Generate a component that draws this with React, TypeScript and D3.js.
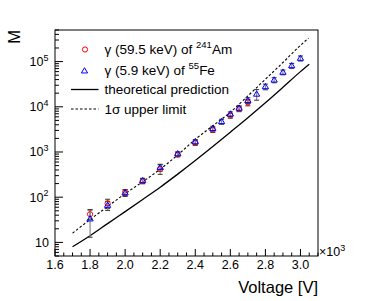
import React from "react";
import * as d3 from "d3";

// ---- data ----
const amVoltage = [1.8, 1.9, 2.0, 2.1, 2.2, 2.3, 2.4, 2.5, 2.6, 2.65, 2.7];
const amGain = [42, 73, 128, 228, 421, 880, 1600, 3100, 6400, 9000, 12500];
const amErr = [10, 17, 20, 30, 100, 100, 200, 400, 800, 1200, 2000];

const feVoltage = [1.8, 1.9, 2.0, 2.1, 2.2, 2.3, 2.4, 2.5, 2.55, 2.6, 2.65, 2.7, 2.75, 2.8, 2.85, 2.9, 2.95, 3.0];
const feGain = [33, 66, 124, 232, 455, 910, 1680, 3300, 4700, 6900, 9300, 13800, 19000, 27800, 39000, 58000, 81000, 118000];
const feErr = [20, 15, 20, 30, 80, 100, 200, 400, 600, 800, 1200, 2000, 5000, 4000, 5000, 7000, 10000, 15000];

const theoryVoltage = [1.7, 1.8, 1.9, 2.0, 2.1, 2.2, 2.3, 2.4, 2.5, 2.6, 2.7, 2.8, 2.9, 3.0, 3.05];
const theoryGain = [8, 14, 26, 48, 89, 166, 324, 646, 1320, 2750, 5750, 12300, 27000, 60000, 87000];

const upperVoltage = [1.7, 1.8, 1.9, 2.0, 2.1, 2.2, 2.3, 2.4, 2.5, 2.6, 2.7, 2.8, 2.9, 3.0, 3.046];
const upperGain = [16, 32, 62, 120, 219, 417, 860, 1900, 3800, 7590, 17400, 40700, 95500, 229000, 331000];

const xTicks = [1.6, 1.8, 2.0, 2.2, 2.4, 2.6, 2.8, 3.0];
const yDecades = [1, 2, 3, 4, 5];

const legendLabels = ["γ (59.5 keV) of ", "γ (5.9 keV) of ", "theoretical prediction", "1σ upper limit"];
const legendSups = ["241", "55", "", ""];
const legendTails = ["Am", "Fe", "", ""];

const FONT = "'Liberation Sans', Arial, Helvetica, sans-serif";

export default function App() {
  const W = 366, H = 301;
  const L = 55, R = 318, T = 30, B = 256;
  const x = d3.scaleLinear().domain([1.6, 3.1]).range([L, R]);
  const y = d3.scaleLog().domain([5, 5e5]).range([B, T]);

  const line = d3.line<[number, number]>().x(d => x(d[0])).y(d => y(d[1])).curve(d3.curveMonotoneX);
  const theoryPath = line(theoryVoltage.map((v, i) => [v, theoryGain[i]]))!;
  const upperPath = line(upperVoltage.map((v, i) => [v, upperGain[i]]))!;

  const xMinor: number[] = d3.range(1.6, 3.1001, 0.05).map(v => +v.toFixed(2));
  const yMinor: number[] = [];
  for (let e = 0; e <= 5; e++) for (let m = 1; m <= 9; m++) {
    const v = m * Math.pow(10, e);
    if (v >= 5 && v <= 5e5) yMinor.push(v);
  }

  const tri = (cx: number, cy: number, s = 3.3) =>
    `M${cx},${cy - s} L${cx + s * 0.95},${cy + s * 0.6} L${cx - s * 0.95},${cy + s * 0.6} Z`;

  const errBar = (vx: number, v: number, e: number, key: string) => {
    const lo = Math.max(v - e, 5.01);
    const hi = v + e;
    const px = x(vx);
    return (
      <g key={key}>
        <line x1={px} x2={px} y1={y(lo)} y2={y(hi)} stroke="#888" strokeWidth={1.2} />
        <line x1={px - 2.5} x2={px + 2.5} y1={y(lo)} y2={y(lo)} stroke="#333" strokeWidth={1} />
        <line x1={px - 2.5} x2={px + 2.5} y1={y(hi)} y2={y(hi)} stroke="#333" strokeWidth={1} />
      </g>
    );
  };

  const legendY = [49.5, 70.5, 89.5, 109];

  return (
    <svg width={W} height={H} style={{ position: "absolute", left: 0, top: 0 }} fontFamily={FONT}>
      <rect x={0} y={0} width={W} height={H} fill="white" />
      {/* theory lines */}
      <path d={theoryPath} fill="none" stroke="black" strokeWidth={1.3} />
      <path d={upperPath} fill="none" stroke="black" strokeWidth={1.1} strokeDasharray="2.5,2" />
      {/* error bars */}
      {amVoltage.map((v, i) => errBar(v, amGain[i], amErr[i], "ae" + i))}
      {feVoltage.map((v, i) => errBar(v, feGain[i], feErr[i], "fe" + i))}
      {/* markers */}
      {amVoltage.map((v, i) => (
        <circle key={"am" + i} cx={x(v)} cy={y(amGain[i])} r={2.6} fill="none" stroke="#ff0000" strokeWidth={1} />
      ))}
      {feVoltage.map((v, i) => (
        <path key={"fm" + i} d={tri(x(v), y(feGain[i]))} fill="none" stroke="#0000ff" strokeWidth={1} />
      ))}
      {/* frame */}
      <rect x={L} y={T} width={R - L} height={B - T} fill="none" stroke="black" strokeWidth={1} />
      {/* x ticks */}
      {xMinor.map((v, i) => {
        const major = xTicks.some(t => Math.abs(t - v) < 1e-6);
        return <line key={"xt" + i} x1={x(v)} x2={x(v)} y1={B} y2={B - (major ? 7 : 3.5)} stroke="black" strokeWidth={1} />;
      })}
      {xTicks.map((v, i) => (
        <text key={"xl" + i} x={x(v)} y={268.5} fontSize={12.5} textAnchor="middle">{v.toFixed(1)}</text>
      ))}
      {/* y ticks */}
      {yMinor.map((v, i) => {
        const major = Math.abs(Math.log10(v) - Math.round(Math.log10(v))) < 1e-9;
        return <line key={"yt" + i} x1={L} x2={L + (major ? 8 : 4)} y1={y(v)} y2={y(v)} stroke="black" strokeWidth={1} />;
      })}
      {yDecades.map(e => (
        e === 1 ? (
          <text key={"yl" + e} x={49} y={y(10) + 4.5} fontSize={12.5} textAnchor="end">10</text>
        ) : (
          <text key={"yl" + e} x={48.5} y={y(Math.pow(10, e)) + 4.5} fontSize={12.5} textAnchor="end">
            10<tspan fontSize={9} dy={-5.5}>{e}</tspan>
          </text>
        )
      ))}
      {/* x exponent */}
      <text x={319} y={256} fontSize={12.5}>
        ×10<tspan fontSize={9} dy={-5.5}>3</tspan>
      </text>
      {/* axis titles */}
      <text x={318} y={292.5} fontSize={16.5} textAnchor="end">Voltage [V]</text>
      <text transform="translate(20,30) rotate(-90)" fontSize={16.5} textAnchor="end">M</text>
      {/* legend */}
      <circle cx={85} cy={legendY[0]} r={2.6} fill="none" stroke="#ff0000" strokeWidth={1} />
      <path d={tri(84.5, legendY[1] + 0.5)} fill="none" stroke="#0000ff" strokeWidth={1} />
      <line x1={71} x2={98.5} y1={legendY[2]} y2={legendY[2]} stroke="black" strokeWidth={1.3} />
      <line x1={71} x2={98.5} y1={legendY[3]} y2={legendY[3]} stroke="black" strokeWidth={1.1} strokeDasharray="2.5,2" />
      {legendLabels.map((lab, i) => (
        <text key={"lg" + i} x={104.5} y={legendY[i] + 4.8} fontSize={13.5}>
          {lab}
          {legendSups[i] ? <tspan fontSize={9.5} dy={-6}>{legendSups[i]}</tspan> : null}
          {legendTails[i] ? <tspan dy={6}>{legendTails[i]}</tspan> : null}
        </text>
      ))}
    </svg>
  );
}
